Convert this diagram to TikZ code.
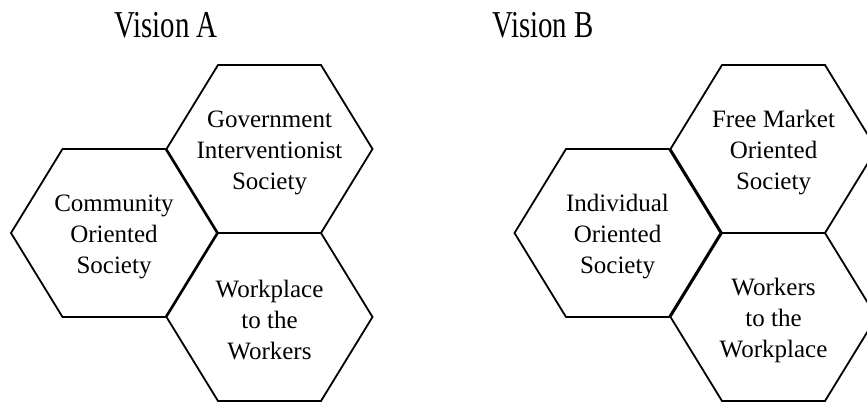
\documentclass[tikz,border=0pt]{standalone}
\usepackage{fontspec}
\setmainfont{Liberation Serif}
\usepackage{graphicx}
\begin{document}
\begin{tikzpicture}[x=1pt,y=-1pt,
  hexline/.style={draw=black,line width=1.8pt,line join=miter},
  hexpic/.pic={\path[hexline] (-103,0) -- (-51.5,-84) -- (51.5,-84) -- (103,0) -- (51.5,84) -- (-51.5,84) -- cycle;},
  hextext/.style={align=center,font=\fontsize{25}{31}\selectfont,inner sep=0pt},
  titletext/.style={anchor=base,inner sep=0pt}]
\useasboundingbox (0,0) rectangle (867,406);
\clip (0,0) rectangle (867,406);
% centres
\coordinate (a1) at (114,233);
\coordinate (a2) at (269.5,149);
\coordinate (a3) at (269.5,317);
\coordinate (b1) at (617.5,233);
\coordinate (b2) at (773.5,149);
\coordinate (b3) at (773.5,317);
\foreach \c in {a1,a2,a3,b1,b2,b3} {\pic at (\c) {hexpic};}
% titles
\node[titletext] (ta) at (166,38) {\scalebox{0.76}[1]{\fontsize{38}{40}\selectfont Vision A}};
\node[titletext] (tb) at (543,38) {\scalebox{0.76}[1]{\fontsize{38}{40}\selectfont Vision B}};
% texts
\node[hextext] (na1) at ([yshift=-4pt]a1) {Community\\Oriented\\Society};
\node[hextext] (na2) at ([yshift=-4pt]a2) {Government\\Interventionist\\Society};
\node[hextext] (na3) at ([yshift=-3pt]a3) {Workplace\\to the\\Workers};
\node[hextext] (nb1) at ([yshift=-4pt]b1) {Individual\\Oriented\\Society};
\node[hextext] (nb2) at ([yshift=-4pt]b2) {Free Market\\Oriented\\Society};
\node[hextext] (nb3) at ([yshift=-3pt]b3) {Workers\\to the\\Workplace};
\end{tikzpicture}
\end{document}
